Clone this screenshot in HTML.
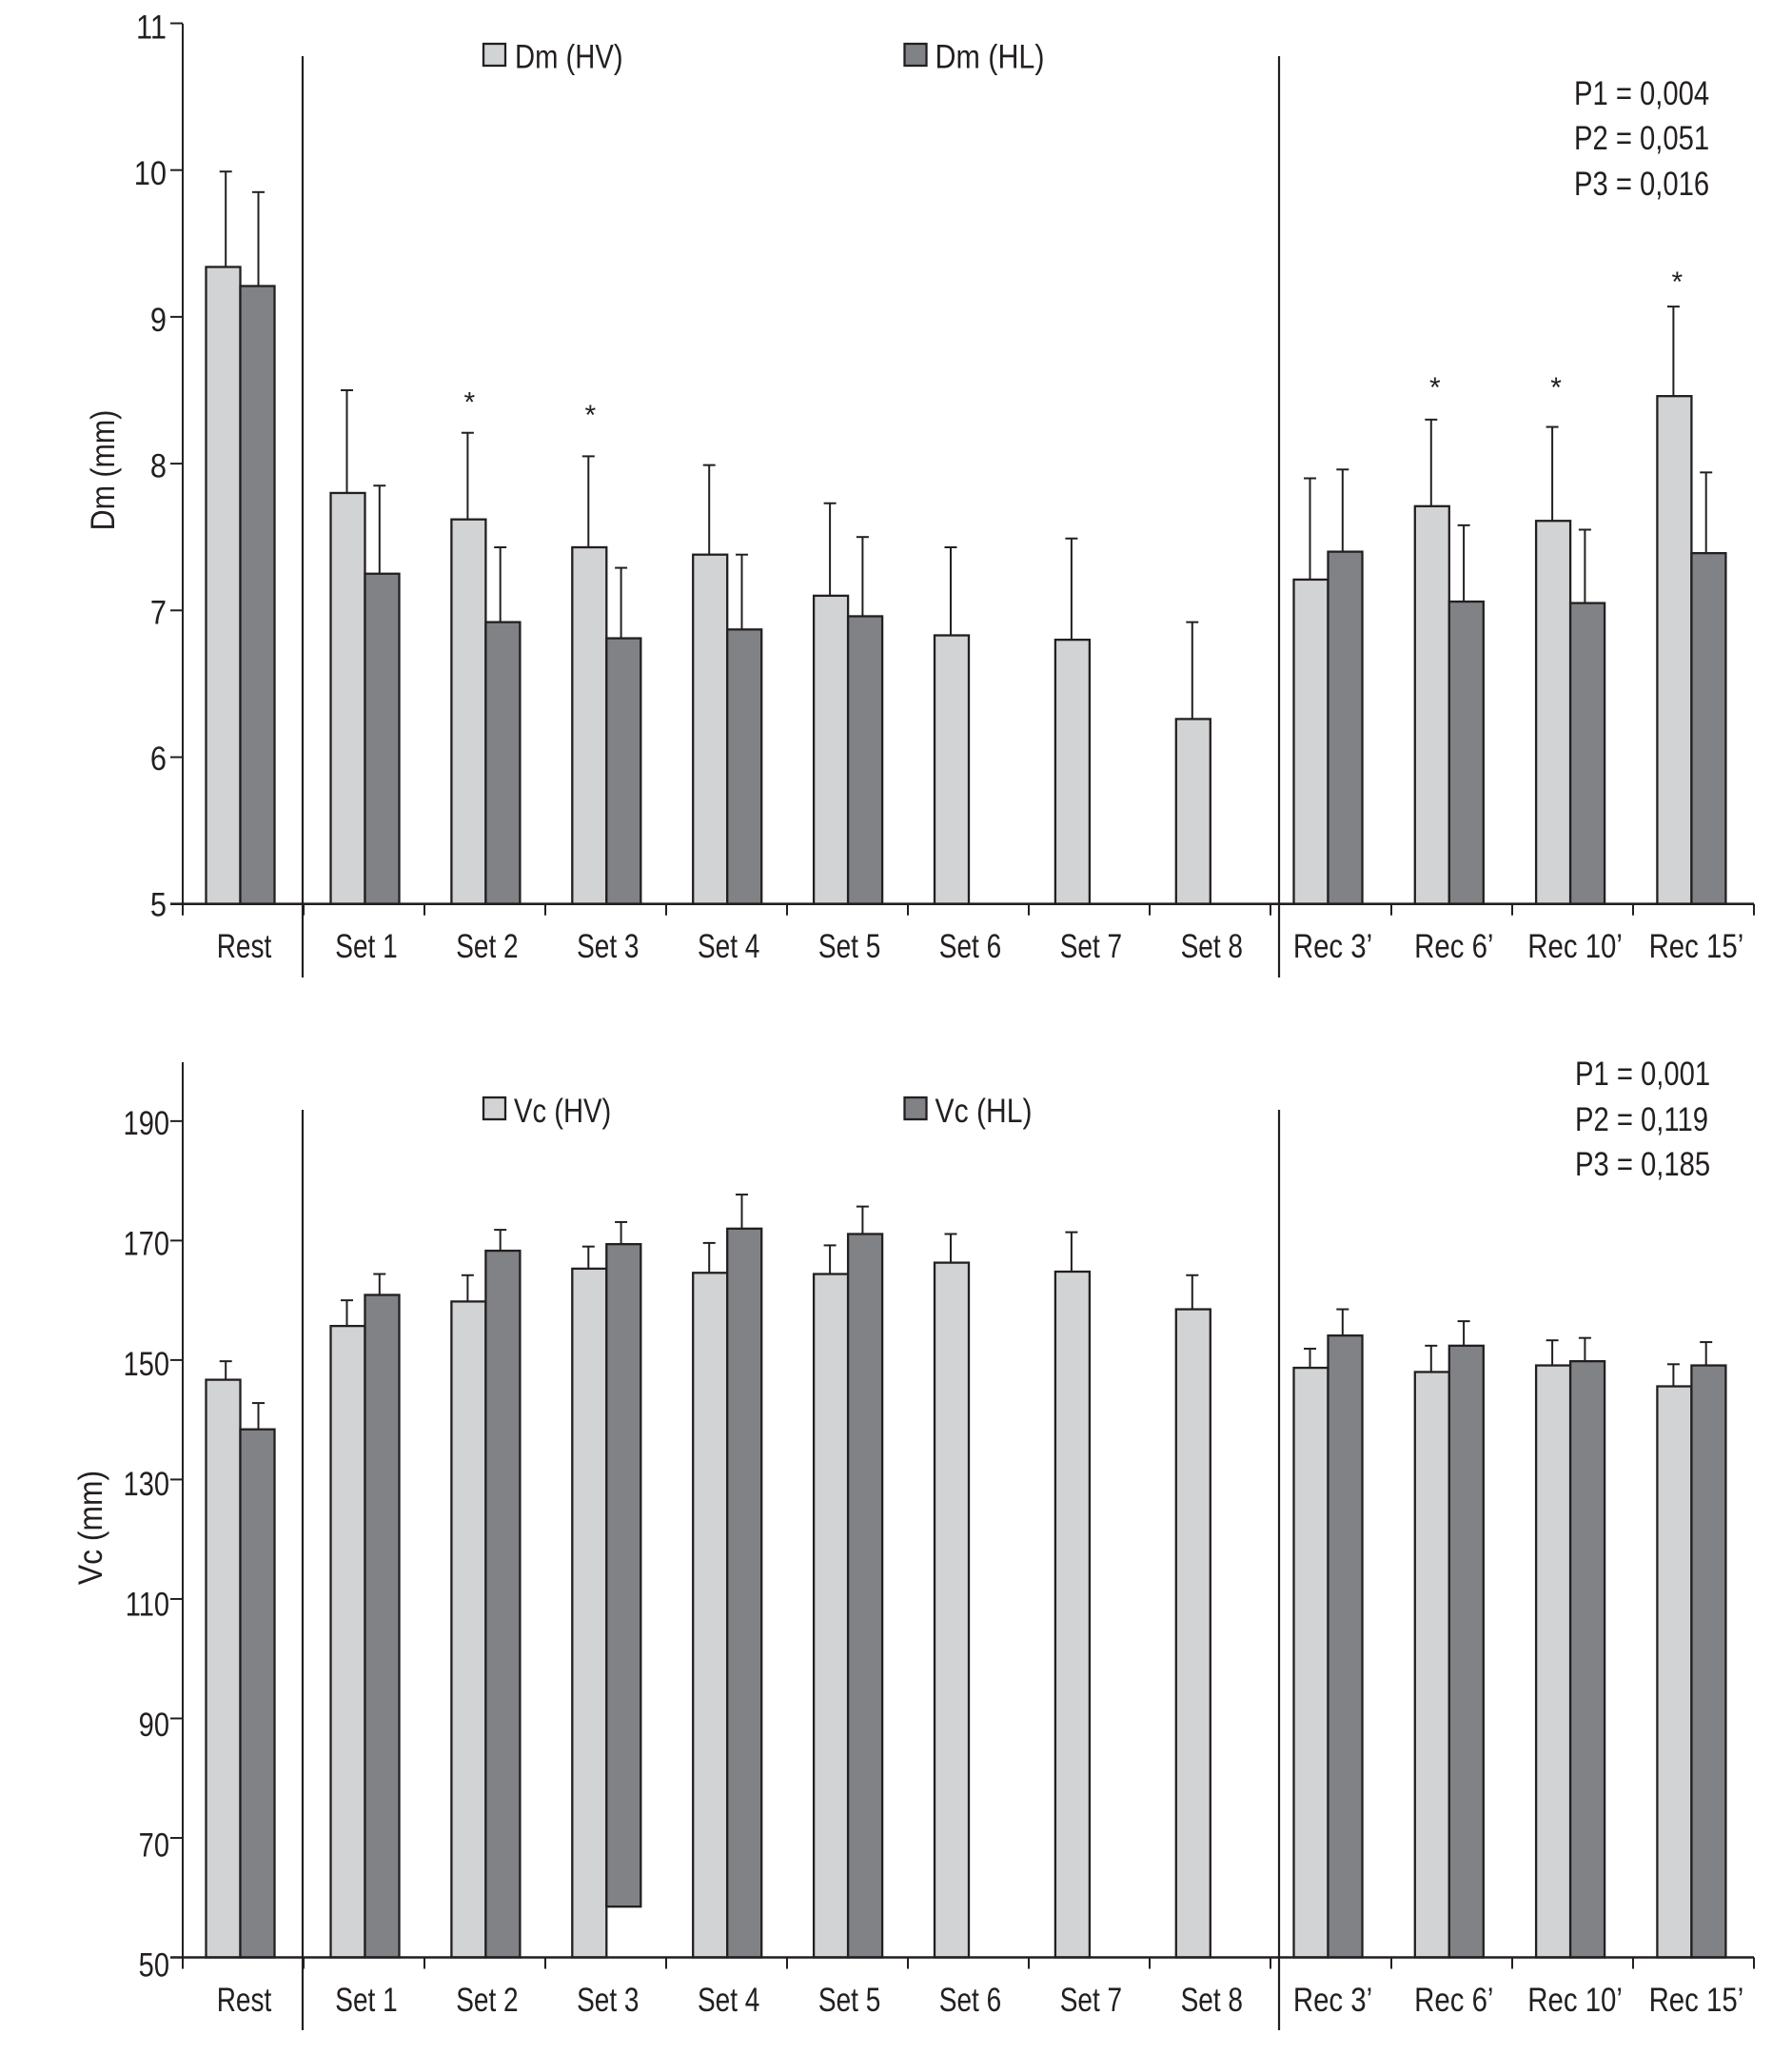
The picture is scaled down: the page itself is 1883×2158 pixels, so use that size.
<!DOCTYPE html>
<html lang="en">
<head>
<meta charset="utf-8">
<title>Dm and Vc bar charts</title>
<style>
html,body{margin:0;padding:0;background:#fff;}
svg{display:block;}
text{font-family:"Liberation Sans",sans-serif;fill:#231f20;font-size:35px;}
</style>
</head>
<body>
<svg id="chart" xmlns="http://www.w3.org/2000/svg" width="1883" height="2158" viewBox="0 0 1883 2158">
  <rect x="0" y="0" width="1883" height="2158" fill="#ffffff"/>
  <g id="panelTop"></g>
  <g id="panelBottom"></g>

  <text text-anchor="middle" transform="translate(120,494) rotate(-90) scale(.87,1)">Dm (mm)</text>
  <text text-anchor="middle" transform="translate(107,1605) rotate(-90) scale(.91,1)">Vc (mm)</text>

  <rect x="508" y="46" width="23" height="23" fill="#d1d3d4" stroke="#231f20" stroke-width="2.3"/>
  <text transform="translate(541,71.5) scale(.835,1)">Dm (HV)</text>
  <rect x="950.5" y="46" width="23" height="23" fill="#808285" stroke="#231f20" stroke-width="2.3"/>
  <text transform="translate(982.5,71.5) scale(.87,1)">Dm (HL)</text>

  <rect x="508" y="1153" width="23" height="23" fill="#d1d3d4" stroke="#231f20" stroke-width="2.3"/>
  <text transform="translate(540,1179) scale(.835,1)">Vc (HV)</text>
  <rect x="950.5" y="1153" width="23" height="23" fill="#808285" stroke="#231f20" stroke-width="2.3"/>
  <text transform="translate(982.5,1179) scale(.86,1)">Vc (HL)</text>

  <text transform="translate(1654,110) scale(.835,1)">P1 = 0,004</text>
  <text transform="translate(1654,157) scale(.835,1)">P2 = 0,051</text>
  <text transform="translate(1654,205) scale(.835,1)">P3 = 0,016</text>
  <text transform="translate(1655,1140) scale(.835,1)">P1 = 0,001</text>
  <text transform="translate(1655,1188) scale(.835,1)">P2 = 0,119</text>
  <text transform="translate(1655,1235) scale(.835,1)">P3 = 0,185</text>
</svg>
<script>
const categories = ['Rest','Set 1','Set 2','Set 3','Set 4','Set 5','Set 6','Set 7','Set 8','Rec 3\u2019','Rec 6\u2019','Rec 10\u2019','Rec 15\u2019'];

const dmTicks = [5,6,7,8,9,10,11];
const dmHV    = [9.34,7.80,7.62,7.43,7.38,7.10,6.83,6.80,6.26,7.21,7.71,7.61,8.46];
const dmHL    = [9.21,7.25,6.92,6.81,6.87,6.96,null,null,null,7.40,7.06,7.05,7.39];
const dmHVErr = [9.99,8.50,8.21,8.05,7.99,7.73,7.43,7.49,6.92,7.90,8.30,8.25,9.07];
const dmHLErr = [9.85,7.85,7.43,7.29,7.38,7.50,null,null,null,7.96,7.58,7.55,7.94];
const dmStarCategories = [2,3,10,11,12];
const dmStarValues = [8.44,8.35,8.54,8.54,9.26];

const vcTicks = [50,70,90,110,130,150,170,190];
const vcHV    = [146.7,155.7,159.8,165.3,164.6,164.4,166.3,164.8,158.5,148.7,148.0,149.1,145.6];
const vcHL    = [138.4,160.9,168.3,169.4,172.0,171.1,null,null,null,154.1,152.4,149.8,149.1];
const vcHVErr = [149.8,160.0,164.2,169.0,169.6,169.2,171.1,171.4,164.2,151.9,152.4,153.3,149.3];
const vcHLErr = [142.8,164.4,171.8,173.1,177.7,175.7,null,null,null,158.5,156.5,153.7,153.0];
const vcHLBase = [50,50,50,58.5,50,50,50,50,50,50,50,50,50];

const INK = '#231f20', LIGHT = '#d1d3d4', DARK = '#808285';
const NS = 'http://www.w3.org/2000/svg';
const axisLeft = 192, axisRight = 1843, barW = 36;

function make(parent, tag, props) {
  const node = document.createElementNS(NS, tag);
  for (const k in props) node.setAttribute(k, props[k]);
  parent.appendChild(node);
  return node;
}
function xTick(i) { return axisLeft + i * (axisRight - axisLeft) / categories.length; }
function xBar(i) {
  if (i === 0) return 252.5;
  if (i <= 8) return 383.5 + 126.9 * (i - 1);
  return 1395.5 + 127.3 * (i - 9);
}
function xLabel(i) { return xBar(i) + (i === 0 ? 4 : (i <= 8 ? 1.5 : 5)); }

function drawPanel(g, o) {
  const y = v => o.y0 - (v - o.vMin) * o.perUnit;
  const slug = o.slug;

  categories.forEach((cat, i) => {
    const c = xBar(i);
    [[o.hv, o.hvErr, LIGHT, -barW, 'hv', null, -1], [o.hl, o.hlErr, DARK, 0, 'hl', o.hlBase, -2.7]].forEach(s => {
      const val = s[0][i];
      if (val === null) return;
      const left = c + s[3];
      const mid = left + barW / 2 + s[6] + (i === 0 ? 3.7 : 0);
      const errTop = s[1][i];
      const stem = make(g, 'line', {x1: mid, x2: mid, y1: y(val), y2: y(errTop), stroke: INK, 'stroke-width': 2});
      
      
      const cap = make(g, 'line', {x1: mid - 6.5, x2: mid + 6.5, y1: y(errTop), y2: y(errTop), stroke: INK, 'stroke-width': 2});
      
      
      const base = s[5] ? s[5][i] : o.vMin;
      const bar = make(g, 'rect', {x: left, y: y(val), width: barW, height: y(base) - y(val), fill: s[2], stroke: INK, 'stroke-width': 2.3});
      
      
    });
    const sx = i > 8 ? .84 : .8;
    const lab = make(g, 'text', {'text-anchor': 'middle', transform: 'translate(' + xLabel(i) + ',' + o.labelY + ') scale(' + sx + ',1)'});
    lab.textContent = cat;
    
    
  });

  const yAxis = make(g, 'line', {x1: axisLeft, x2: axisLeft, y1: o.axisTop, y2: o.y0 + 12, stroke: INK, 'stroke-width': 2});
  
  
  const xAxis = make(g, 'line', {x1: axisLeft - 13, x2: axisRight, y1: o.y0, y2: o.y0, stroke: INK, 'stroke-width': 2.6});
  
  

  for (let i = 1; i <= categories.length; i++) {
    const t = make(g, 'line', {x1: xTick(i), x2: xTick(i), y1: o.y0, y2: o.y0 + 12, stroke: INK, 'stroke-width': 2});
    
    
  }
  o.ticks.forEach(v => {
    const t = make(g, 'line', {x1: axisLeft - 13, x2: axisLeft, y1: y(v), y2: y(v), stroke: INK, 'stroke-width': 2});
    
    
    const dy = o.labelDy0 + (v - o.vMin) * o.labelDySlope;
    const lab = make(g, 'text', {'text-anchor': 'end', transform: 'translate(' + o.tickLabelX + ',' + (y(v) + dy) + ') scale(' + o.tickLabelSx + ',1)'});
    lab.textContent = String(v);
    
    
  });

  [318, 1344].forEach(x => {
    const d = make(g, 'line', {x1: x, x2: x, y1: o.divTop, y2: o.divBottom, stroke: INK, 'stroke-width': 2.2});
    
    
  });

  (o.starCats || []).forEach((cat, i) => {
    const s = make(g, 'text', {'text-anchor': 'middle', x: xBar(cat) - 17 + (cat > 8 ? 2 : 0), y: y(o.starVals[i]) + 13, style: 'font-size:30px'});
    s.textContent = '*';
    
    
  });
}

drawPanel(document.getElementById('panelTop'), {
  slug: 'dm', y0: 949.7, vMin: 5, perUnit: 154.2, axisTop: 24.7,
  ticks: dmTicks, hv: dmHV, hl: dmHL, hvErr: dmHVErr, hlErr: dmHLErr, hlBase: null,
  labelY: 1006, labelDy0: 13, labelDySlope: 0.5, divTop: 59, divBottom: 1027,
  tickLabelX: 175, tickLabelSx: .88,
  starCats: dmStarCategories, starVals: dmStarValues
});
drawPanel(document.getElementById('panelBottom'), {
  slug: 'vc', y0: 2056.5, vMin: 50, perUnit: 6.276, axisTop: 1116,
  ticks: vcTicks, hv: vcHV, hl: vcHL, hvErr: vcHVErr, hlErr: vcHLErr, hlBase: vcHLBase,
  labelY: 2113, labelDy0: 20.2, labelDySlope: -0.043, divTop: 1166, divBottom: 2133,
  tickLabelX: 178, tickLabelSx: .83
});
</script>
</body>
</html>
